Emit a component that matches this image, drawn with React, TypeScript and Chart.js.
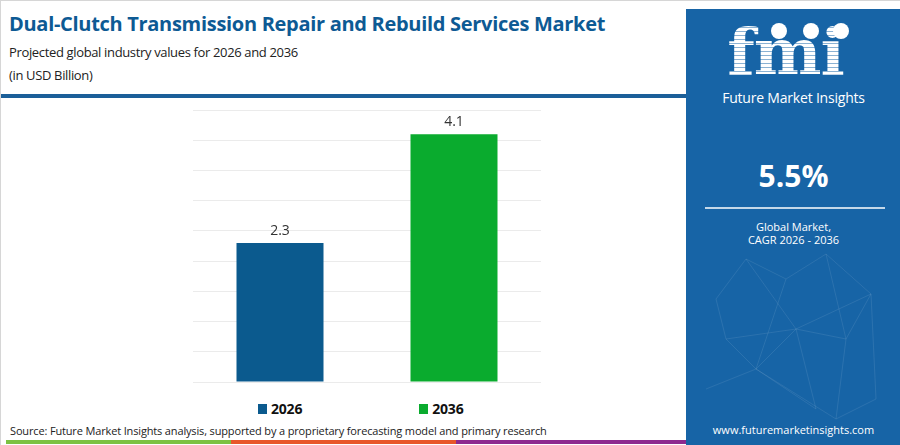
import React, { useEffect, useRef } from "react";
import { Chart, registerables } from "chart.js";

Chart.register(...registerables);

const categories = ["2026", "2036"];
const values = [2.3, 4.1];
const barColors = ["#0b5a8e", "#0aab2e"];
const yMax = 4.5;
const yStep = 0.5;

const FONT = "'Open Sans', 'Noto Sans', sans-serif";

export default function App() {
  const ref = useRef<HTMLCanvasElement | null>(null);

  useEffect(() => {
    document.body.style.margin = "0";
    const labelPlugin = {
      id: "valueLabels",
      afterDatasetsDraw(chart: any) {
        const ctx = chart.ctx;
        const meta = chart.getDatasetMeta(0);
        meta.data.forEach((bar: any, i: number) => {
          const v = chart.data.datasets[0].data[i];
          ctx.save();
          ctx.font = `14px ${FONT}`;
          ctx.fillStyle = "#333333";
          ctx.textAlign = "center";
          ctx.textBaseline = "bottom";
          ctx.fillText(String(v), bar.x, bar.y - 5);
          ctx.restore();
        });
      },
    };
    const chart = new Chart(ref.current as HTMLCanvasElement, {
      type: "bar",
      data: {
        labels: categories,
        datasets: [
          {
            label: "Market value",
            data: values,
            backgroundColor: barColors,
            borderWidth: 0,
            barPercentage: 1,
            categoryPercentage: 0.5,
          },
        ],
      },
      options: {
        animation: false,
        responsive: true,
        maintainAspectRatio: false,
        layout: { padding: { left: 12, right: 10, top: 19, bottom: 9 } },
        plugins: {
          legend: { display: false },
          tooltip: { enabled: false },
        },
        scales: {
          x: {
            ticks: { display: false },
            grid: { display: false, drawTicks: false },
            border: { display: false },
          },
          y: {
            min: 0,
            max: yMax,
            ticks: { display: false, stepSize: yStep },
            grid: { color: "#ebebeb", drawTicks: false, lineWidth: 1 },
            border: { display: false },
          },
        },
      },
      plugins: [labelPlugin],
    });
    return () => chart.destroy();
  }, []);

  return (
    <div
      style={{
        position: "fixed",
        left: 0,
        top: 0,
        width: 900,
        height: 445,
        background: "#ffffff",
        overflow: "hidden",
        fontFamily: FONT,
        boxSizing: "border-box",
        borderLeft: "1px solid #d6d6d6",
        borderTop: "1px solid #d6d6d6",
      }}
    >
      <div
        style={{
          position: "absolute",
          left: 8,
          top: 9,
          fontSize: 20,
          fontWeight: 700,
          color: "#0d5a94",
          whiteSpace: "nowrap",
          letterSpacing: -0.3,
        }}
      >
        Dual-Clutch Transmission Repair and Rebuild Services Market
      </div>
      <div
        style={{
          position: "absolute",
          left: 8,
          top: 40,
          fontSize: 13,
          color: "#222",
          lineHeight: "23px",
          letterSpacing: -0.35,
          whiteSpace: "nowrap",
        }}
      >
        Projected global industry values for 2026 and 2036
        <br />
        (in USD Billion)
      </div>
      <div
        style={{
          position: "absolute",
          left: 0,
          top: 93,
          width: 685,
          height: 4,
          background: "#1b5f99",
        }}
      />

      <div style={{ position: "absolute", left: 180, top: 90, width: 370, height: 300 }}>
        <canvas ref={ref} />
      </div>

      <div
        style={{
          position: "absolute",
          left: 257,
          top: 398,
          display: "flex",
          gap: 117,
          fontSize: 14,
          fontWeight: 700,
          color: "#111",
          letterSpacing: -0.2,
        }}
      >
        {categories.map((c, i) => (
          <div key={c} style={{ display: "flex", alignItems: "center" }}>
            <span style={{ width: 9, height: 10, background: barColors[i], display: "inline-block", marginRight: 4 }} />
            {c}
          </div>
        ))}
      </div>

      <div
        style={{
          position: "absolute",
          left: 9,
          top: 422,
          fontSize: 11,
          color: "#222",
          whiteSpace: "nowrap",
          letterSpacing: -0.15,
        }}
      >
        Source: Future Market Insights analysis, supported by a proprietary forecasting model and primary research
      </div>
      <div style={{ position: "absolute", left: 5, top: 439, width: 225, height: 4, background: "#7cc243" }} />
      <div style={{ position: "absolute", left: 230, top: 439, width: 225, height: 4, background: "#e8572a" }} />
      <div style={{ position: "absolute", left: 455, top: 439, width: 230, height: 4, background: "#8e2a8f" }} />

      <div
        style={{
          position: "absolute",
          left: 685,
          top: 8,
          width: 215,
          height: 437,
          background: "#1764a6",
          color: "#fff",
        }}
      >
        <svg width="215" height="437" style={{ position: "absolute", left: 0, top: 0 }}>
          <g stroke="rgba(255,255,255,0.09)" strokeWidth="1" fill="none">
            <path d="M30 290 L60 250 L100 270 L140 245 L185 285 L160 330 L110 320 L70 360 L40 330 Z" />
            <path d="M60 250 L110 320 L185 285 M100 270 L70 360 M140 245 L160 330 L150 410 M40 330 L110 320 L130 400 L70 360" />
            <path d="M20 380 L70 360 L150 410 L190 390 L185 285" />
          </g>
        </svg>
        <div
          style={{
            position: "absolute",
            left: -8,
            width: 215,
            top: 3,
            textAlign: "center",
            fontSize: 64,
            fontWeight: 800,
            fontFamily: "'DejaVu Serif', serif",
            lineHeight: "80px",
            letterSpacing: -1,
            backgroundImage:
              "repeating-linear-gradient(180deg, #ffffff 0px, #ffffff 3px, rgba(255,255,255,0.5) 3px, rgba(255,255,255,0.5) 4px)",
            WebkitBackgroundClip: "text",
            backgroundClip: "text",
            color: "transparent",
          }}
        >
          fmi
        </div>
        {[93, 125, 155].map((x) => (
          <div
            key={x}
            style={{
              position: "absolute",
              left: x - 8,
              top: 14,
              width: 16,
              height: 16,
              borderRadius: 8,
              background: "#fff",
            }}
          />
        ))}
        <div
          style={{
            position: "absolute",
            left: 0,
            width: 215,
            top: 79,
            textAlign: "center",
            fontSize: 14,
            letterSpacing: -0.2,
          }}
        >
          Future Market Insights
        </div>
        <div
          style={{
            position: "absolute",
            left: 0,
            width: 215,
            top: 146,
            textAlign: "center",
            fontSize: 30,
            fontWeight: 700,
          }}
        >
          5.5%
        </div>
        <div style={{ position: "absolute", left: 19, top: 198, width: 180, height: 2, background: "rgba(255,255,255,0.75)" }} />
        <div
          style={{
            position: "absolute",
            left: 0,
            width: 215,
            top: 211,
            textAlign: "center",
            fontSize: 11,
            lineHeight: "13px",
          }}
        >
          Global Market,
          <br />
          CAGR 2026 - 2036
        </div>
        <div
          style={{
            position: "absolute",
            left: 0,
            width: 215,
            top: 413,
            textAlign: "center",
            fontSize: 11,
          }}
        >
          www.futuremarketinsights.com
        </div>
      </div>
    </div>
  );
}
